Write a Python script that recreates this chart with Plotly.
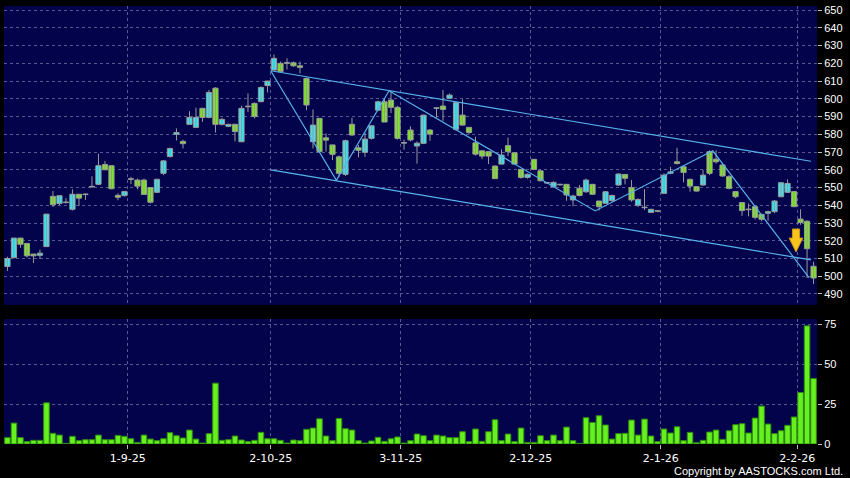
import plotly.graph_objects as go

# ---------------- data ----------------
day_index = list(range(125))

open_px = [505.5, 510.5, 521.5, 518.5, 512.5, 511.8, 516.7, 545, 541, 541.5,
           537.7, 546.2, 546, 550.3, 551.8, 563, 562.3, 545.6, 545.4, 554.6,
           554.2, 554.2, 550, 547.3, 558, 567.4, 580, 576, 585.6, 583.9,
           594.6, 589.5, 606, 585.6, 584.5, 585.6, 575.8, 595.5, 597.4, 598.4,
           607.5, 616.2, 620, 620, 620.3, 618.6, 611.5, 575.8, 589, 578,
           574, 567.3, 557.4, 585.6, 572.4, 569.8, 577.7, 593.6, 598.3, 599.3,
           595.2, 575, 582.4, 573.4, 574.9, 582.4, 594.6, 595.9, 600.2, 582.8,
           590.8, 583.9, 575.2, 570.7, 570.2, 562.1, 563.2, 573.6, 569.6, 560.2,
           555.7, 565.9, 559.4, 552.5, 550.5, 551.5, 551.8, 543, 549.6, 547.6,
           551.8, 542.4, 541.1, 542.6, 551.4, 557.4, 549.9, 540, 538.6, 536,
           536.8, 546.7, 558, 564.5, 561.7, 554.6, 550.5, 551.4, 570.2, 566,
           562.7, 556.1, 547.7, 541.5, 537.7, 539.2, 534.9, 535.5, 536.4, 544.8,
           547.3, 547.7, 532.2, 531, 505.6]
high_px = [511, 521.5, 521.5, 518.5, 512.5, 515, 535, 548, 545.5, 544,
           549, 546.2, 546.5, 556.3, 569, 565, 562.3, 546.7, 548, 556,
           555, 555, 550, 555, 565.5, 572.5, 583.3, 577, 593, 595,
           595, 605, 606.5, 589.3, 586, 586, 596, 603, 598, 607,
           610, 625, 621, 622.8, 621, 621, 612, 594, 589, 580.5,
           574, 568, 577, 589.3, 574, 581, 585, 599, 600, 604,
           596, 577, 584.5, 576, 591, 583, 595, 605, 603, 598.5,
           599.7, 584, 578.6, 571, 570.5, 562.5, 571.5, 578.2, 570, 560.5,
           558, 566, 560, 553, 553.5, 552, 552, 546, 551.4, 555,
           552, 542.5, 548, 546, 558, 557.5, 554.2, 544, 549, 538,
           537, 558, 561.7, 572.4, 562, 555, 550.5, 560, 571, 571,
           563.7, 557, 548, 541.5, 541, 540, 535, 537, 543, 553,
           554.6, 548, 537.7, 531.5, 508.2]
low_px = [503, 510, 516, 510.5, 507.5, 509.7, 516.5, 539, 540, 541,
          537, 539.6, 543, 550, 551.5, 559.8, 549, 542.8, 545, 552,
          549, 546, 541, 547, 557, 567, 576.5, 572, 585.5, 583.5,
          587, 589, 581, 585, 584, 576, 575.5, 592.5, 589, 598,
          603.6, 616, 615, 616.5, 618, 614.3, 593.6, 572, 569.5, 570.2,
          565.5, 556, 556.5, 579, 567, 567.3, 577, 593, 587, 592,
          577, 571.3, 576, 563.5, 574.5, 576.4, 589.5, 587.6, 600, 582,
          585, 580, 568, 566, 563.2, 554.8, 563, 567.7, 563, 555,
          555, 560, 553.5, 552, 550, 551, 542.5, 539.4, 545, 547,
          546, 537, 541, 542, 551, 551.8, 542, 539, 537.3, 535.8,
          536, 546.5, 557.5, 563, 552.9, 547.7, 547.7, 551, 557, 563.5,
          556, 549, 544, 534, 533.8, 532, 531, 531.2, 535.5, 544.5,
          547, 539, 529, 499, 495.6]
close_px = [510, 521.5, 518, 511.5, 511.5, 513, 535, 540.3, 545.4, 541.5,
            546.2, 544, 546, 550.3, 562.3, 560, 549.3, 544.5, 547.8, 554.6,
            550.8, 546.1, 541.7, 554.6, 565, 572, 581, 574.7, 589.5, 589.5,
            589.5, 603.6, 585.6, 588.4, 585.6, 581.5, 594.6, 595.5, 590, 606.4,
            610, 622.8, 615.3, 620, 618.6, 617.7, 596.5, 585.2, 570.2, 576.7,
            568.7, 558, 576.4, 579.6, 571, 577.3, 584.8, 598.3, 586.9, 595.2,
            577.7, 575, 576.8, 575, 590.8, 580.1, 594.6, 594, 602.1, 597.8,
            585.2, 581, 568.8, 567.7, 567.7, 555, 568.3, 570.2, 563.2, 555.7,
            557.4, 560.2, 553.8, 552.5, 552.9, 551.5, 545.8, 545.2, 545.5, 554.2,
            546.2, 539.2, 547.6, 545.5, 557.6, 555.2, 543, 543.2, 538.6, 537.7,
            536.6, 557, 558.8, 563.5, 558.5, 550.8, 548, 557, 558, 564.5,
            556.5, 549.5, 544.8, 537, 537.5, 533.2, 532.1, 536.4, 542.4, 552.7,
            552.3, 539.2, 530.3, 515.5, 499]
volume = [4.0, 13.1, 4.0, 1.5, 2.3, 2.3, 25.8, 6.7, 5.6, 0.4,
          4.8, 2.1, 2.7, 2.7, 5.6, 2.7, 2.7, 5.4, 4.8, 3.3,
          1.0, 5.6, 3.1, 2.1, 3.3, 7.1, 5.2, 3.75, 8.75, 3.1,
          0.6, 6.5, 38.1, 2.3, 2.7, 5.0, 2.5, 1.5, 2.3, 7.3,
          3.3, 3.3, 2.3, 0.6, 2.5, 2.1, 9.2, 10.0, 15.8, 5.0,
          2.1, 16.0, 9.6, 8.75, 2.1, 0.6, 1.9, 4.2, 1.7, 3.3,
          4.4, 0.6, 2.1, 6.25, 5.2, 2.1, 5.6, 5.0, 4.0, 4.0,
          7.7, 1.5, 9.4, 1.7, 7.7, 15.2, 2.1, 6.25, 1.5, 10.0,
          1.0, 1.0, 5.2, 2.1, 5.6, 2.1, 10.6, 2.1, 0.4, 16.5,
          13.5, 17.7, 11.9, 3.1, 6.5, 6.7, 15.0, 5.6, 15.6, 5.0,
          1.5, 9.4, 6.9, 10.8, 2.1, 7.3, 0.8, 2.3, 7.5, 8.75,
          2.9, 8.3, 12.1, 12.7, 6.9, 16.25, 23.75, 12.5, 6.5, 8.3,
          11.7, 16.9, 32.3, 74.0, 41.0]

# month tick positions (between candles) and labels
tick_pos = [18.5, 40.5, 60.5, 80.5, 100.5, 121.5]
tick_labels = ["1-9-25", "2-10-25", "3-11-25", "2-12-25", "2-1-26", "2-2-26"]
price_ticks = list(range(490, 651, 10))
volume_ticks = [0, 25, 50, 75]

# trend lines (candle index, price)
upper_x, upper_y = [40.5, 123.6], [615.8, 564.8]
lower_x, lower_y = [40.5, 123.6], [559.9, 509.2]
zig_x = [40.5, 50.6, 58.7, 90.4, 108.5, 123.3]
zig_y = [615.8, 554.1, 604.5, 536.8, 570.7, 499.2]

# sell signal arrow
signal_x = 121.3
signal_top, signal_neck, signal_tip = 526.6, 521.5, 513.7

# ---------------- styles ----------------
NAVY = "#02034a"
UP = "#33e6f4"
DOWN = "#7be81e"
WICK = "#9a9a9a"
TREND = "#58b2ec"
GRID = "rgba(145,145,195,0.6)"
FONT = "Liberation Sans"
BODY_W = 0.8
MIN_BODY = 0.35  # keeps open == close days visible as a flat line

# ---------------- derived candle geometry ----------------
wick_x, wick_y = [], []
up = dict(x=[], base=[], h=[])
dn = dict(x=[], base=[], h=[])
for i, o, h, l, c in zip(day_index, open_px, high_px, low_px, close_px):
    wick_x += [i, i, None]
    wick_y += [l, h, None]
    grp = up if c >= o else dn
    grp["x"].append(i)
    grp["base"].append(min(o, c))
    grp["h"].append(max(abs(c - o), MIN_BODY))

fig = go.Figure()
fig.add_trace(go.Scatter(x=wick_x, y=wick_y, mode="lines", xaxis="x", yaxis="y",
                         line=dict(color=WICK, width=1), showlegend=False,
                         hoverinfo="skip"))
for grp, col in [(up, UP), (dn, DOWN)]:
    fig.add_trace(go.Bar(x=grp["x"], y=grp["h"], base=grp["base"], width=BODY_W,
                         xaxis="x", yaxis="y",
                         marker=dict(color=col, line=dict(color=WICK, width=1)),
                         showlegend=False, hoverinfo="skip"))
for lx, ly in [(upper_x, upper_y), (lower_x, lower_y), (zig_x, zig_y)]:
    fig.add_trace(go.Scatter(x=lx, y=ly, mode="lines", xaxis="x", yaxis="y",
                             line=dict(color=TREND, width=1.2),
                             showlegend=False, hoverinfo="skip"))
fig.add_trace(go.Bar(x=day_index, y=volume, xaxis="x2", yaxis="y2", width=0.86,
                     marker=dict(color="#66f01e", line=dict(color="#2f8a10", width=1)),
                     showlegend=False, hoverinfo="skip"))

sx = signal_x
arrow_path = (f"M {sx-0.55},{signal_top} L {sx+0.55},{signal_top} L {sx+0.55},{signal_neck} "
              f"L {sx+1.05},{signal_neck} L {sx},{signal_tip} L {sx-1.05},{signal_neck} "
              f"L {sx-0.55},{signal_neck} Z")
fig.add_shape(type="path", path=arrow_path, xref="x", yref="y",
              fillcolor="#f6c41c", line=dict(color="#d09a10", width=1))

axis_common = dict(showline=False, zeroline=False, gridcolor=GRID, griddash="3px,3px",
                   gridwidth=1)
fig.update_layout(
    width=850, height=478,
    margin=dict(l=4, r=33, t=6, b=34),
    paper_bgcolor="black", plot_bgcolor=NAVY,
    barmode="overlay",
    font=dict(family=FONT, color="white"),
    xaxis=dict(domain=[0, 1], anchor="y", range=[-0.53, 124.53],
               tickvals=tick_pos, showticklabels=False, ticks="", **axis_common),
    xaxis2=dict(domain=[0, 1], anchor="y2", matches="x", range=[-0.53, 124.53],
                tickvals=tick_pos, ticktext=tick_labels, ticks="outside",
                ticklen=4, tickcolor="#bbbbbb",
                tickfont=dict(family="DejaVu Sans", size=11, color="white"), **axis_common),
    yaxis=dict(domain=[0.3174, 1], anchor="x", side="right", range=[483.8, 652.3],
               tickvals=price_ticks, ticks="outside", ticklen=4, tickcolor="#bbbbbb",
               tickfont=dict(family=FONT, size=11, color="white"), **axis_common),
    yaxis2=dict(domain=[0, 0.2854], anchor="x2", side="right", range=[0, 78.3],
                tickvals=volume_ticks, ticks="outside", ticklen=4, tickcolor="#bbbbbb",
                tickfont=dict(family=FONT, size=11, color="white"), **axis_common),
    annotations=[dict(text="Copyright by AASTOCKS.com Ltd.", xref="paper", yref="paper",
                      x=1.0344, y=-0.0616, xanchor="right", yanchor="middle",
                      showarrow=False, font=dict(family=FONT, size=11, color="white"))],
)

fig.write_html("out.html", config={"displayModeBar": False},
               post_script="document.body.style.margin='0';")
